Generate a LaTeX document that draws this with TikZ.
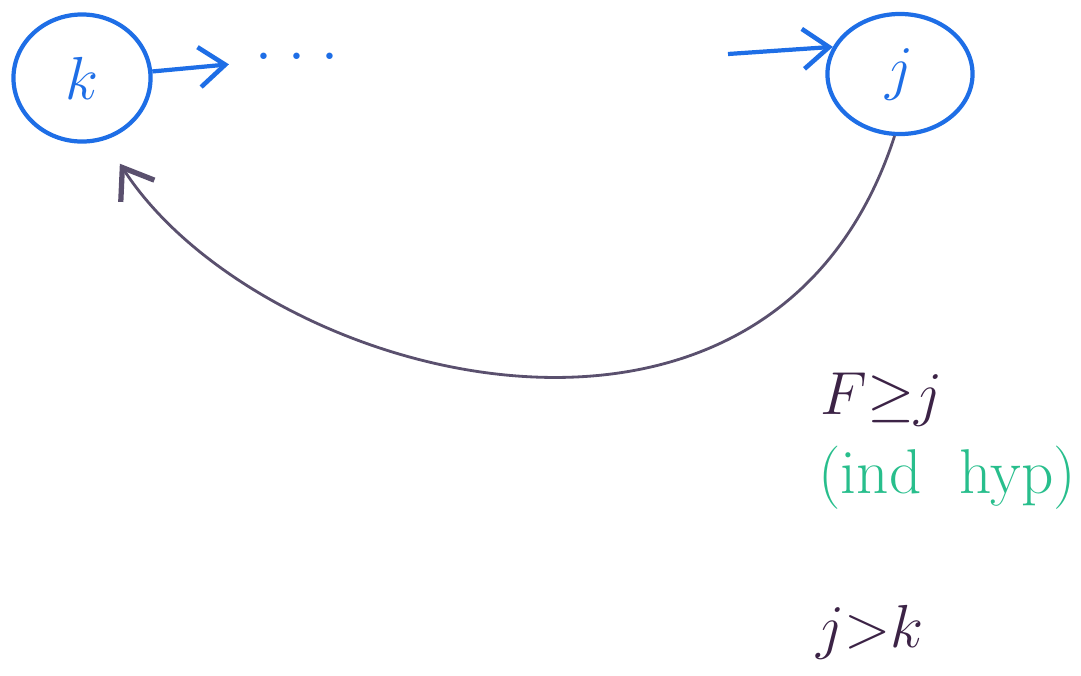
\documentclass[tikz,border=0pt]{standalone}
\usepackage{amsmath,amssymb}
\usepackage{tikz}
\usetikzlibrary{positioning,arrows.meta,shapes.geometric}
\usepackage{xcolor}
\definecolor{penblue}{RGB}{30,110,230}
\definecolor{pengreen}{RGB}{40,190,140}
\definecolor{pendark}{RGB}{60,35,70}
\definecolor{pengray}{RGB}{90,80,110}

\begin{document}
\begin{tikzpicture}[x=0.01cm, y=-0.01cm,
    vert/.style={draw=penblue, ellipse, line width=1.2pt, text=penblue, font=\fontsize{16}{18}\selectfont, inner sep=0pt},
    arr/.style={-{Straight Barb[length=2.6mm, width=4mm, line width=1.3pt]}, line width=1.2pt, penblue},
    back/.style={-{Straight Barb[length=2.8mm, width=4mm, line width=1.5pt]}, line width=0.8pt, pengray},
    note/.style={font=\fontsize{17}{19}\selectfont, text=pendark, anchor=west}]
  \useasboundingbox (0,0) rectangle (1081,675);
  % knoten
  \node[vert, minimum width=1.37cm, minimum height=1.27cm] (k) at (82,78) {$k$};
  \node[vert, minimum width=1.45cm, minimum height=1.2cm] (j) at (900,74) {$j$};
  \node[text=penblue, font=\fontsize{16}{18}\selectfont, inner xsep=2.6mm, inner ysep=2pt] (dots) at (297,58)
    {$\cdot$\hspace{1.6mm}$\cdot$\hspace{1.6mm}$\cdot$};
  \coordinate (jin) at (728,54);
  \draw[arr] (k) -- (dots);
  \draw[arr] (jin) -- (j.158);
  % zurueck
  \draw[back, shorten >=2.8mm] (j.265) .. controls (770,520) and (260,380) .. (k.-70);
  % notizen
  \node[note] (hyp) at (808,400) {$F{\geq}j$};
  \node[note, text=pengreen, font=\fontsize{18}{20}\selectfont] (ind) at (806,478) {(ind\ \ hyp)};
  \node[note] (jk) at (804,632) {$j{>}k$};
\end{tikzpicture}
\end{document}
